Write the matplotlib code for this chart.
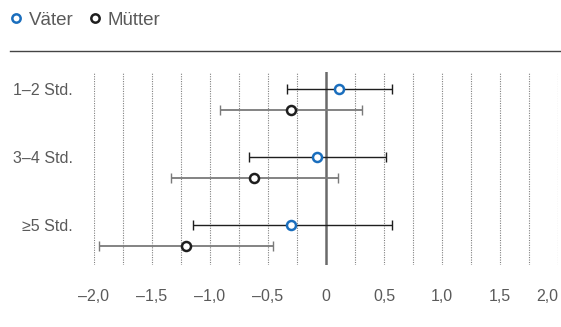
import matplotlib
matplotlib.use('Agg')
from matplotlib import pyplot as plt
from matplotlib.lines import Line2D

plt.rcParams['font.family'] = ['Liberation Sans', 'DejaVu Sans']

categories = ['1–2 Std.', '3–4 Std.', '≥5 Std.']
vaeter = [0.115, -0.075, -0.30]
vaeter_lo = [-0.34, -0.66, -1.15]
vaeter_hi = [0.57, 0.52, 0.57]
muetter = [-0.30, -0.62, -1.21]
muetter_lo = [-0.91, -1.34, -1.96]
muetter_hi = [0.31, 0.10, -0.46]
xticks = [-2.0, -1.5, -1.0, -0.5, 0, 0.5, 1.0, 1.5, 2.0]
xtick_labels = ['–2,0', '–1,5', '–1,0', '–0,5', '0', '0,5', '1,0', '1,5', '2,0']

blue = '#1a6ebd'
dark = '#1e1e1e'
text_col = '#5a5a5a'

fig = plt.figure(figsize=(5.61, 3.27), dpi=100)
ax = fig.add_axes([94 / 561, 1 - 265 / 327, (558 - 94) / 561, (265 - 72) / 327])

# dotted grid every 0.25
for g in [i * 0.25 for i in range(-8, 9)]:
    if g == 0:
        continue
    ax.axvline(g, color='#808080', lw=0.8, ls=(0, (1, 1.2)), zorder=1)
ax.axvline(0, color='#6a6a6a', lw=1.8, zorder=2)

pos = list(range(len(categories)))
pos_m = [p + 0.3 for p in pos]

for y, v, lo, hi in zip(pos, vaeter, vaeter_lo, vaeter_hi):
    ax.errorbar([v], [y], xerr=[[v - lo], [hi - v]], fmt='none', ecolor=dark,
                elinewidth=1.0, capsize=3.5, capthick=1.0, zorder=3)
for y, v, lo, hi in zip(pos_m, muetter, muetter_lo, muetter_hi):
    ax.errorbar([v], [y], xerr=[[v - lo], [hi - v]], fmt='none', ecolor='#7a7a7a',
                elinewidth=1.3, capsize=3.5, capthick=1.0, zorder=3)
ax.plot(vaeter, pos, 'o', ms=6.5, mfc='white', mec=blue, mew=1.8, zorder=4)
ax.plot(muetter, pos_m, 'o', ms=6.5, mfc='white', mec=dark, mew=1.8, zorder=4)

ax.set_xlim(-2.0, 2.0)
ax.set_ylim(2.58, -0.25)
ax.set_yticks(pos)
ax.set_yticklabels(categories)
ax.set_xticks(xticks)
ax.set_xticklabels(xtick_labels)
ax.get_xticklabels()[-1].set_ha('right')
ax.tick_params(axis='y', length=0, pad=15, labelsize=11.5, labelcolor=text_col)
ax.tick_params(axis='x', length=0, pad=17, labelsize=11.5, labelcolor=text_col)
for s in ax.spines.values():
    s.set_visible(False)

# line under legend
fig.add_artist(Line2D([10 / 561, 1], [1 - 51 / 327] * 2, color='#444444', lw=1.0))

handles = [
    Line2D([], [], marker='o', ls='none', ms=6, mfc='white', mec=blue, mew=1.8),
    Line2D([], [], marker='o', ls='none', ms=6, mfc='white', mec=dark, mew=1.8),
]
fig.legend(handles, ['Väter', 'Mütter'], loc='center left', bbox_to_anchor=(5 / 561, 1 - 20 / 327),
           ncol=2, frameon=False, fontsize=13.5, handlelength=0.6, handletextpad=0.4,
           columnspacing=0.8, borderaxespad=0, borderpad=0.3, labelcolor=text_col)

fig.savefig('out.png', dpi=100)
